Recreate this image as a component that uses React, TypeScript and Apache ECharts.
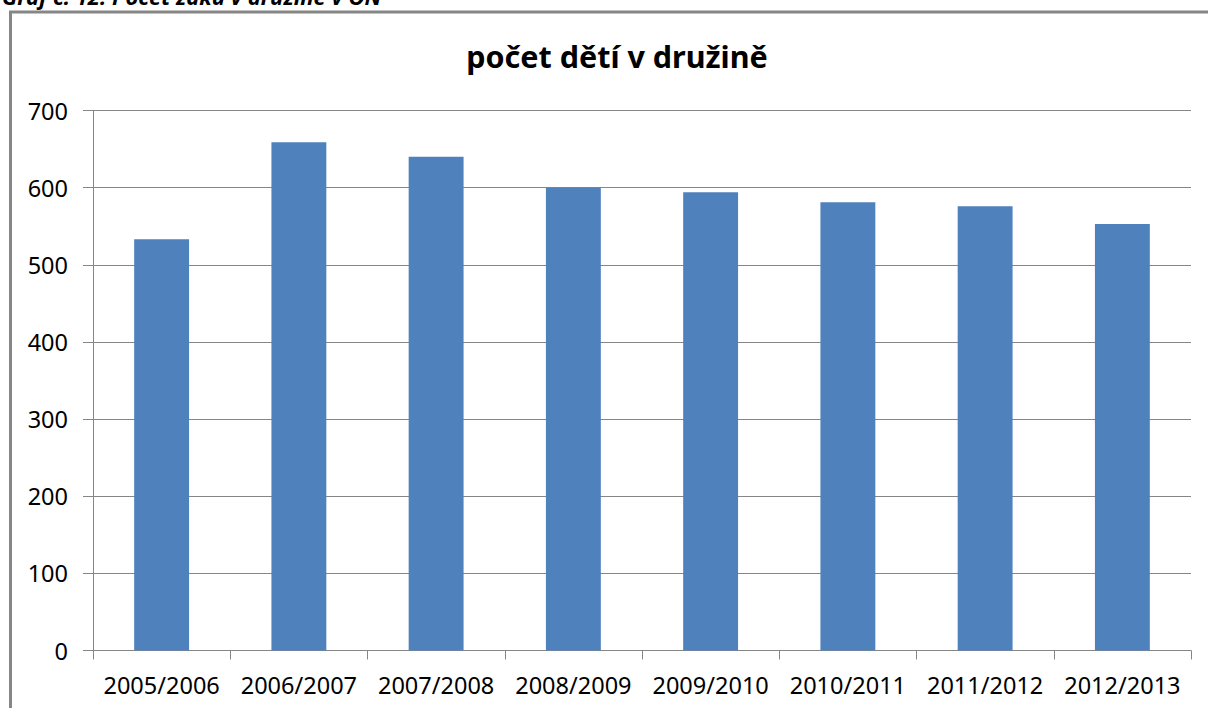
import React, { useEffect, useRef } from "react";
import * as echarts from "echarts";

const categories = [
  "2005/2006",
  "2006/2007",
  "2007/2008",
  "2008/2009",
  "2009/2010",
  "2010/2011",
  "2011/2012",
  "2012/2013",
];
const children = [533, 659, 640, 600, 594, 581, 576, 553];
const chartTitle = "počet dětí v družině";
const captionText = "Graf č. 12: Počet žáků v družině v ON";

export default function App() {
  const ref = useRef<HTMLDivElement>(null);
  useEffect(() => {
    if (!ref.current) return;
    const chart = echarts.init(ref.current, null, { renderer: "svg" });
    const grey = "#868686";
    chart.setOption({
      animation: false,
      backgroundColor: "#ffffff",
      textStyle: { fontFamily: "Noto Sans" },
      title: {
        text: chartTitle,
        left: 612,
        textAlign: "center",
        top: 35,
        textStyle: { fontFamily: "Noto Sans", fontWeight: "bold", fontSize: 30.5, color: "#000" },
      },
      graphic: [
        {
          type: "text",
          left: 2,
          top: -15,
          style: {
            text: captionText,
            font: "italic bold 22px 'Noto Sans'",
            fill: "#000",
          },
        },
        {
          type: "polyline",
          shape: { points: [[10.5, 720], [10.5, 12], [1220, 12]] },
          style: { stroke: grey, lineWidth: 3, fill: "none" },
        },
      ],
      grid: { left: 93, right: 17, top: 110.5, bottom: 57.5, containLabel: false },
      xAxis: {
        type: "category",
        data: categories,
        boundaryGap: true,
        axisLine: { show: true, lineStyle: { color: grey, width: 1 } },
        axisTick: { show: true, length: 9, lineStyle: { color: grey }, alignWithLabel: false },
        axisLabel: { color: "#000", fontSize: 23.5, margin: 22, fontFamily: "Noto Sans", interval: 0 },
        splitLine: { show: false },
      },
      yAxis: {
        type: "value",
        min: 0,
        max: 700,
        interval: 100,
        axisLine: { show: true, lineStyle: { color: grey, width: 1 } },
        axisTick: { show: true, inside: false, length: 10, lineStyle: { color: grey } },
        axisLabel: { color: "#000", fontSize: 23.5, margin: 25, fontFamily: "Noto Sans" },
        splitLine: { show: true, lineStyle: { color: grey, width: 1 } },
      },
      series: [
        {
          type: "bar",
          data: children,
          barWidth: "40%",
          itemStyle: { color: "#4F81BD" },
        },
      ],
    });
    return () => chart.dispose();
  }, []);
  return (
    <div
      ref={ref}
      style={{ position: "fixed", left: 0, top: 0, width: 1208, height: 708, background: "#fff" }}
    />
  );
}
